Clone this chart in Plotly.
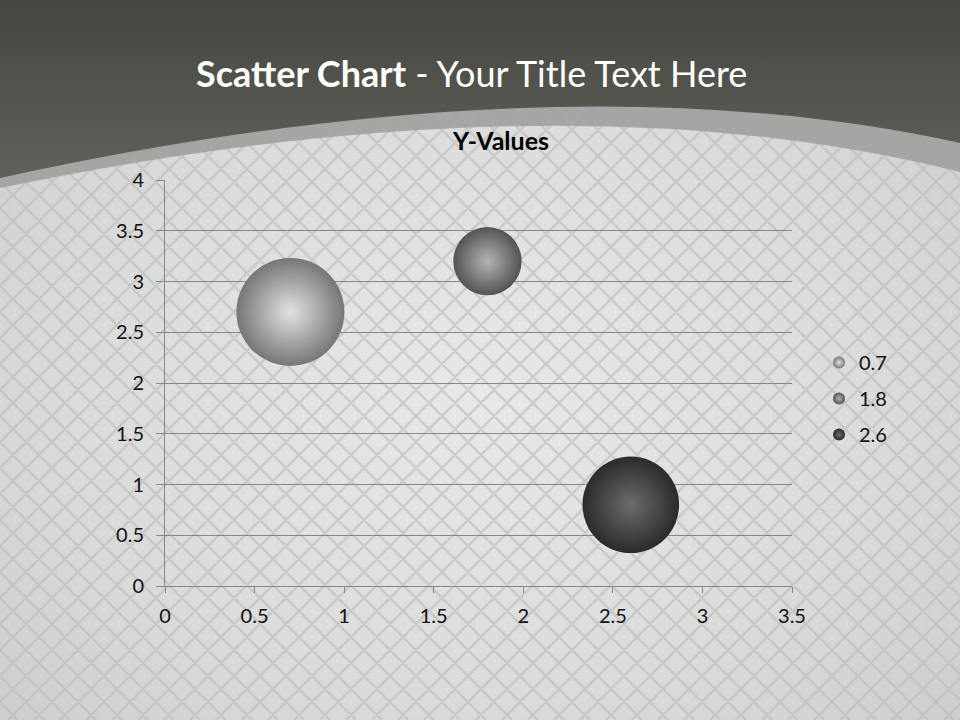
import base64
import plotly.graph_objects as go

# ---- data ----
series_names = ["0.7", "1.8", "2.6"]
x_values = [0.7, 1.8, 2.6]
y_values = [2.7, 3.2, 0.8]
bubble_sizes = [10, 4, 8]
x_ticks = [0, 0.5, 1, 1.5, 2, 2.5, 3, 3.5]
y_ticks = [0, 0.5, 1, 1.5, 2, 2.5, 3, 3.5, 4]

# ---- styles ----
center_colors = ["#e2e2e2", "#b4b4b4", "#6c6c6a"]
edge_colors = ["#767676", "#535353", "#2b2c2a"]
FONT = "Lato"
W, H = 960, 720
L, R, T, B = 165, 168, 180, 134
PW, PH = W - L - R, H - T - B

# ---- background svg (decoration) ----
lat = []
step = 26
for k in range(-40, 80):
    c = k * step
    lat.append(f"M{c},0 L{c + H},{H}")
    lat.append(f"M{c},0 L{c - H},{H}")
svg = f'''<svg xmlns="http://www.w3.org/2000/svg" width="{W}" height="{H}" viewBox="0 0 {W} {H}" preserveAspectRatio="none">
<defs>
<radialGradient id="bg" cx="0.5" cy="0.55" r="0.7">
<stop offset="0" stop-color="#e7e9e9"/><stop offset="0.6" stop-color="#dadbdb"/><stop offset="1" stop-color="#cbcccc"/>
</radialGradient>
<linearGradient id="hd" x1="0" y1="0" x2="0" y2="1">
<stop offset="0" stop-color="#45463f"/><stop offset="1" stop-color="#60615b"/>
</linearGradient>
</defs>
<rect x="0" y="0" width="{W}" height="{H}" fill="url(#bg)"/>
<path d="{' '.join(lat)}" stroke="#bdbab7" stroke-opacity="0.6" stroke-width="2.4" fill="none"/>
<path d="M0,0 H960 V172 Q560,72 0,188 Z" fill="#a2a3a0" fill-opacity="0.95"/>
<path d="M0,0 H960 V143 Q560,55.5 0,178 Z" fill="url(#hd)"/>
</svg>'''
src = "data:image/svg+xml;base64," + base64.b64encode(svg.encode()).decode()

fig = go.Figure()
max_d = 108
sizeref = 2.0 * max(bubble_sizes) / max_d ** 2
for i, name in enumerate(series_names):
    fig.add_trace(go.Scatter(
        x=[x_values[i]], y=[y_values[i]], name=name, mode="markers",
        legendgroup=name,
        marker=dict(size=[bubble_sizes[i]], sizemode="area", sizeref=sizeref,
                    color=edge_colors[i], opacity=1, line=dict(width=0),
                    gradient=dict(type="radial", color=center_colors[i])),
        hoverinfo="skip",
    ))

fig.add_layout_image(dict(
    source=src, xref="paper", yref="paper",
    x=-L / PW, y=1 + T / PH, sizex=W / PW, sizey=H / PH,
    xanchor="left", yanchor="top", sizing="stretch", layer="below",
))

fig.add_annotation(
    text="<b>Scatter Chart</b> - Your Title Text Here",
    xref="paper", yref="paper", x=(471 - L) / PW, y=(H - B - 73) / PH,
    showarrow=False, font=dict(family=FONT, size=36, color="white"),
    xanchor="center", yanchor="middle",
)
fig.add_annotation(
    text="<b>Y-Values</b>",
    xref="paper", yref="paper", x=(500 - L) / PW, y=(H - B - 140) / PH,
    showarrow=False, font=dict(family=FONT, size=25, color="black"),
    xanchor="center", yanchor="middle",
)

axis_font = dict(family=FONT, size=20, color="#111111")
fig.update_layout(
    width=W, height=H, autosize=False,
    margin=dict(l=L, r=R, t=T, b=B, pad=0),
    paper_bgcolor="#d6d7d7", plot_bgcolor="rgba(0,0,0,0)",
    showlegend=True,
    legend=dict(x=(819 - L) / PW, y=(H - B - 343) / PH, xanchor="left", yanchor="top",
                font=dict(family=FONT, size=20, color="#111111"),
                bgcolor="rgba(0,0,0,0)", itemsizing="constant",
                tracegroupgap=7, itemwidth=30),
    xaxis=dict(range=[0, 3.5], tickvals=x_ticks, ticktext=[str(v) for v in x_ticks],
               showgrid=False, zeroline=False, showline=True, linecolor="#878787",
               linewidth=1, ticks="outside", ticklen=6, tickcolor="#878787",
               ticklabelstandoff=6,
               tickfont=axis_font, fixedrange=True),
    yaxis=dict(range=[0, 4], tickvals=y_ticks, ticktext=[str(v) for v in y_ticks],
               showgrid=True, gridcolor="#878787", gridwidth=1, zeroline=False,
               showline=True, linecolor="#878787", linewidth=1,
               ticks="outside", ticklen=8, tickcolor="#878787",
               ticklabelstandoff=8,
               tickfont=axis_font, fixedrange=True),
)

fig.write_html("out.html", config={"displayModeBar": False, "staticPlot": True},
               post_script="document.body.style.margin='0';document.body.style.padding='0';")
